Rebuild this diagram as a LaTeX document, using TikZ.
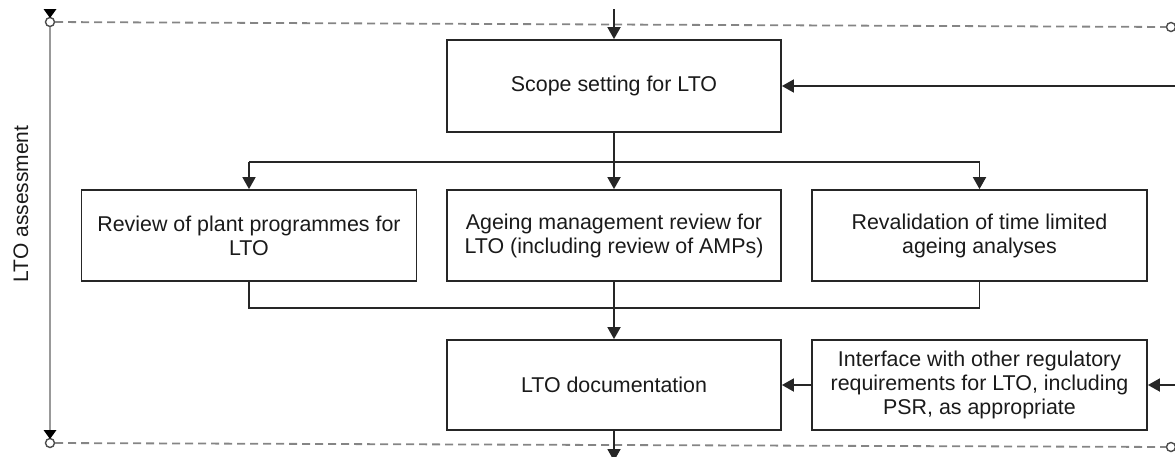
\documentclass[tikz,border=0pt]{standalone}
\usepackage{fontspec}
\setmainfont{Liberation Sans}
\usetikzlibrary{arrows.meta}
\definecolor{txt}{HTML}{1A1A1A}
\definecolor{guidecol}{HTML}{999999}
\definecolor{dashcol}{HTML}{858585}
\begin{document}
\begin{tikzpicture}[x=1pt,y=-1pt,
  box/.style={draw=black!85, line width=1.8pt, minimum width=335pt, minimum height=91pt,
    align=center, font=\fontsize{21.4}{24}\selectfont, text=txt, inner sep=2pt},
  conn/.style={draw=black!85, line width=1.8pt},
  arr/.style={conn, -{Triangle[width=13pt,length=12pt]}},
  guideline/.style={draw=guidecol, line width=2pt},
  guidedash/.style={draw=dashcol, line width=1.8pt, dash pattern=on 8pt off 5pt},
  ring/.style={circle, draw=black!70, line width=1.4pt, fill=white, inner sep=0pt, minimum size=9pt},
  lbl/.style={font=\fontsize{21}{24}\selectfont, text=txt}
]
\clip (0,0) rectangle (1175,456);

% frame guides
\node[ring] (tl) at (50,22) {};
\node[ring] (tr) at (1171,27) {};
\node[ring] (bl) at (50,443) {};
\node[ring] (br) at (1171,447) {};
\draw[guidedash] (tl) -- (tr);
\draw[guidedash] (bl) -- (br);
\draw[guideline] (tl) -- (bl);
\fill (43.5,9) -- (56.5,9) -- (50,18) -- cycle;
\fill (43.5,430) -- (56.5,430) -- (50,439) -- cycle;
\node[lbl, rotate=90] (assess) at (21,204) {LTO assessment};

% boxes
\node[box, minimum width=334pt, minimum height=92pt] (scope) at (614,86) {Scope setting for LTO};
\node[box] (plant) at (249,235.5) {Review of plant programmes for\\LTO};
\node[box, minimum width=334pt] (amr) at (614,235.5) {Ageing management review for\\LTO (including review of AMPs)};
\node[box] (tlaa) at (979.5,235.5) {Revalidation of time limited\\ageing analyses};
\node[box, minimum width=334pt, minimum height=90pt] (docs) at (614,385) {LTO documentation};
\node[box, minimum height=90pt] (intf) at (979.5,385) {Interface with other regulatory\\requirements for LTO, including\\PSR, as appropriate};

% connectors
\coordinate (split) at (614,162);
\coordinate (merge) at (614,308);
\coordinate (inTop) at (614,9);
\coordinate (inR1) at (1180,86);
\coordinate (inR2) at (1180,385);
\coordinate (outB) at (614,461);

\draw[arr] (inTop) -- (scope.north);
\draw[arr] (inR1) -- (scope.east);
\draw[conn] (scope.south) -- (split);
\draw[conn] (plant.north |- split) -- (tlaa.north |- split);
\draw[arr] (plant.north |- split) -- (plant.north);
\draw[arr] (split) -- (amr.north);
\draw[arr] (tlaa.north |- split) -- (tlaa.north);
\draw[conn] (plant.south) -- (plant.south |- merge) -- (tlaa.south |- merge) -- (tlaa.south);
\draw[arr] (amr.south) -- (docs.north);
\draw[arr] (inR2) -- (intf.east);
\draw[arr] (intf.west) -- (docs.east);
\draw[arr] (docs.south) -- (outB);
\end{tikzpicture}
\end{document}
